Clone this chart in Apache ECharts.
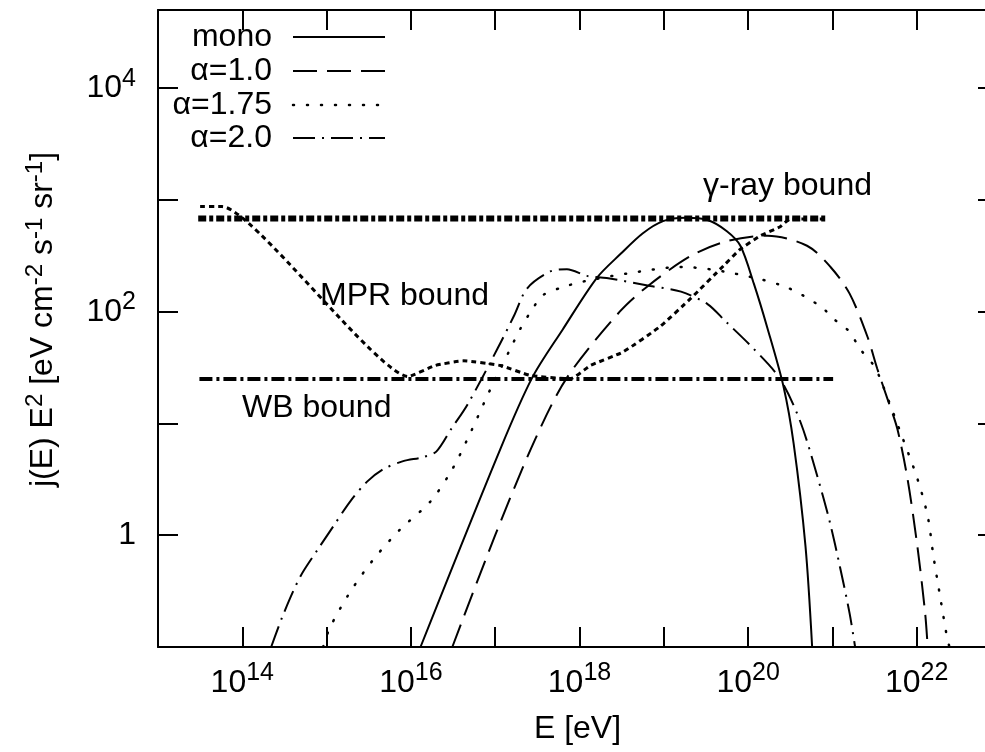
<!DOCTYPE html>
<html><head><meta charset="utf-8">
<script src="https://cdn.jsdelivr.net/npm/echarts@6/dist/echarts.min.js"></script>
<style>html,body{margin:0;padding:0;background:#fff}#c{width:985px;height:752px}</style>
</head><body><div id="c"></div>
<script>
// ---------- data ----------
const monoE = [1.3e16, 1.15e17, 2.75e17, 6.3e17, 1.6e18, 3.1e18, 5.6e18, 9.8e18, 1.8e19, 3.3e19, 5.6e19, 8.1e19, 1.17e20, 1.7e20, 2.63e20, 3.47e20, 4.8e20, 5.75e20];
const monoJ = [0.1, 5.9, 25.7, 69, 200, 331, 501, 646, 692, 661, 525, 389, 178, 70.8, 21.4, 6.6, 0.79, 0.1];

const alpha10E = [3.1e16, 1.0e17, 2.95e17, 7.1e17, 3.0e18, 6.5e18, 2.1e19, 5.6e19, 1.7e20, 5.0e20, 9.5e20, 1.6e21, 2.6e21, 3.4e21, 4.5e21, 5.9e21, 7.8e21, 1.02e22, 1.26e22, 1.35e22];
const alpha10J = [0.1, 1.0, 7.1, 25.7, 100, 170, 316, 427, 479, 389, 251, 145, 60, 31, 16.6, 8.9, 3.16, 0.79, 0.2, 0.1];

const alpha175E = [9.1e14, 1.1e15, 1.9e15, 3.55e15, 7.4e15, 1.7e16, 3.1e16, 5.1e16, 8.7e16, 1.5e17, 2.0e17, 2.8e17, 3.7e17, 7.1e17, 1.1e18, 3.6e18, 1.6e19, 5.1e19, 2.6e20, 7.2e20, 1.02e21, 1.6e21, 2.1e21, 3.1e21, 3.7e21, 6.9e21, 1.02e22, 1.35e22, 1.58e22, 1.9e22, 2.3e22, 2.45e22];
const alpha175J = [0.1, 0.15, 0.31, 0.6, 1.12, 2.0, 3.9, 8.3, 20, 46, 71, 107, 141, 170, 186, 219, 251, 229, 170, 112, 87, 66, 47, 33, 25, 7.2, 3.2, 1.48, 0.65, 0.28, 0.12, 0.1];

const alpha20E = [2.2e14, 3.1e14, 4.9e14, 7.8e14, 1.2e15, 1.9e15, 3.0e15, 4.7e15, 8.1e15, 1.4e16, 2.0e16, 3.0e16, 4.7e16, 1.07e17, 1.66e17, 2.4e17, 4.5e17, 7.1e17, 1.23e18, 2.1e18, 6.9e18, 1.6e19, 3.3e19, 5.4e19, 1.15e20, 2.4e20, 4.2e20, 6.6e20, 9.3e20, 1.23e21, 1.6e21, 1.86e21];
const alpha20J = [0.1, 0.2, 0.43, 0.74, 1.2, 2.0, 3.0, 3.9, 4.6, 5.0, 5.6, 8.9, 14.8, 47, 91, 162, 229, 240, 209, 200, 170, 151, 117, 82, 47, 25, 10.2, 3.4, 1.32, 0.52, 0.2, 0.1];

const mprE = [3.16e13, 5.75e13, 9.3e15, 1.95e16, 4.2e16, 1.15e17, 2.6e17, 7.8e17, 1.35e18, 3.3e18, 9.1e18, 2.1e19, 5.1e19, 8.1e19, 1.41e20, 2.4e20, 3.16e20, 8.7e20];
const mprJ = [871, 871, 26.3, 33, 36.3, 33, 26.9, 25.1, 33, 43.7, 74, 132, 257, 363, 479, 575, 676, 676];

const gammaE = [3.0e13, 8.7e20];
const gammaJ = [680, 680];
const wbE = [3.1e13, 1.02e21];
const wbJ = [25, 25];

const seriesNames = ['mono', 'α=1.0', 'α=1.75', 'α=2.0'];
const boundNames = ['γ-ray bound', 'MPR bound', 'WB bound'];
const xTitle = 'E [eV]';
const xTicks = [1e13, 1e14, 1e15, 1e16, 1e17, 1e18, 1e19, 1e20, 1e21, 1e22];
const xTickLabels = [1e14, 1e16, 1e18, 1e20, 1e22];
const yTicks = [0.1, 1, 10, 100, 1000, 10000];
const yTickLabels = [1, 100, 10000];

// ---------- helpers ----------
const FONT = '"Liberation Sans", Arial, Helvetica, sans-serif';
function pairs(xs, ys) { return xs.map((x, i) => [x, ys[i]]); }
function expLabel(v) {
  const e = Math.log10(v); const r = Math.round(e);
  if (Math.abs(e - r) > 1e-6 || r % 2 !== 0) return '';
  if (r === 0) return '{b|1}';
  return '{b|10}{s|' + r + '}';
}
const labelRich = {
  b: { fontSize: 32, fontFamily: FONT, color: '#000', lineHeight: 44, verticalAlign: 'middle' },
  s: { fontSize: 25, fontFamily: FONT, color: '#000', lineHeight: 18, verticalAlign: 'top' }
};
const axisLineStyle = { color: '#000', width: 2 };

const dashMono = 'solid';
const dashA10 = [24, 10];
const dashA175 = [1, 13];
const dashA20 = [22, 7, 2, 7];

function curve(name, xs, ys, type, width, cap, smooth) {
  return {
    name, type: 'line', data: pairs(xs, ys), showSymbol: false, symbol: 'none',
    smooth: smooth == null ? 0.3 : smooth, clip: true, silent: true,
    lineStyle: { color: '#000', width: width, type: type, cap: cap || 'butt' }
  };
}

const chart = echarts.init(document.getElementById('c'), null, { renderer: 'canvas' });
const yNameRich = {
  m: { fontSize: 32, fontFamily: FONT, color: '#000', lineHeight: 40, verticalAlign: 'middle' },
  s: { fontSize: 24, fontFamily: FONT, color: '#000', lineHeight: 16, verticalAlign: 'top' }
};

const legendX1 = 293, legendX2 = 385, legendTextX = 272;
const legendY = [37, 71, 105, 138];
const legendDash = [null, dashA10, dashA175, dashA20];
const graphics = [];
seriesNames.forEach((n, i) => {
  graphics.push({ type: 'text', x: legendTextX, y: legendY[i], silent: true,
    style: { text: n, align: 'right', verticalAlign: 'middle', fontSize: 32, fontFamily: FONT, fill: '#000' } });
  graphics.push({ type: 'line', silent: true, shape: { x1: legendX1, y1: legendY[i], x2: legendX2, y2: legendY[i] },
    style: { stroke: '#000', lineWidth: i === 2 ? 2.5 : 2, lineDash: legendDash[i], lineCap: i === 2 ? 'round' : 'butt' } });
});
const annPos = [[703, 186], [320, 296], [242, 408]];
boundNames.forEach((n, i) => {
  graphics.push({ type: 'text', x: annPos[i][0], y: annPos[i][1], silent: true,
    style: { text: n, align: 'left', verticalAlign: 'middle', fontSize: 32, fontFamily: FONT, fill: '#000' } });
});

const X_MIN = 1e13, X_MAX = 6.46e22, Y_MIN = 0.1, Y_MAX = 5e4;

chart.setOption({
  backgroundColor: '#fff',
  animation: false,
  grid: { left: 158, top: 10, width: 827, height: 637, containLabel: false },
  xAxis: [{
    type: 'log', logBase: 10, min: X_MIN, max: X_MAX, splitNumber: 10,
    axisLine: { show: true, lineStyle: axisLineStyle },
    axisTick: { show: true, inside: true, length: 20, lineStyle: axisLineStyle, customValues: xTicks },
    minorTick: { show: false }, splitLine: { show: false },
    axisLabel: { formatter: expLabel, margin: 14, rich: labelRich, customValues: xTickLabels },
    name: xTitle, nameLocation: 'middle', nameGap: 66,
    nameTextStyle: { fontSize: 32, fontFamily: FONT, color: '#000', padding: [0, 0, 0, 12] }
  }, {
    type: 'log', logBase: 10, min: X_MIN, max: X_MAX, splitNumber: 10, position: 'top',
    axisLine: { show: true, lineStyle: axisLineStyle },
    axisTick: { show: true, inside: true, length: 20, lineStyle: axisLineStyle, customValues: xTicks },
    minorTick: { show: false }, splitLine: { show: false }, axisLabel: { show: false }
  }],
  yAxis: [{
    type: 'log', logBase: 10, min: Y_MIN, max: Y_MAX, splitNumber: 6,
    axisLine: { show: true, lineStyle: axisLineStyle },
    axisTick: { show: true, inside: true, length: 20, lineStyle: axisLineStyle, customValues: yTicks },
    minorTick: { show: false }, splitLine: { show: false },
    axisLabel: { formatter: expLabel, margin: 22, rich: labelRich, customValues: yTickLabels },
    name: '{m|j(E) E}{s|2}{m| [eV cm}{s|-2}{m| s}{s|-1}{m| sr}{s|-1}{m|]}',
    nameLocation: 'middle', nameGap: 95, nameRotate: 90,
    nameTextStyle: { rich: yNameRich, fontSize: 32, fontFamily: FONT, color: '#000', padding: [0, 0, 0, 18] }
  }, {
    type: 'log', logBase: 10, min: Y_MIN, max: Y_MAX, splitNumber: 6, position: 'right',
    axisLine: { show: false },
    axisTick: { show: true, inside: true, length: 7, lineStyle: axisLineStyle, customValues: yTicks },
    minorTick: { show: false }, splitLine: { show: false }, axisLabel: { show: false }
  }],
  series: [
    curve('γ-ray bound', gammaE, gammaJ, [8, 3, 4, 3], 6, 'butt', false),
    curve('WB bound', wbE, wbJ, [13, 4, 3, 4], 4, 'butt', false),
    curve('MPR bound', mprE, mprJ, [5, 4], 3, 'butt', 0.15),
    curve(seriesNames[0], monoE, monoJ, dashMono, 2),
    curve(seriesNames[1], alpha10E, alpha10J, dashA10, 2),
    curve(seriesNames[2], alpha175E, alpha175J, dashA175, 2.5, 'round'),
    curve(seriesNames[3], alpha20E, alpha20J, dashA20, 2)
  ],
  graphic: graphics
});
</script></body></html>
